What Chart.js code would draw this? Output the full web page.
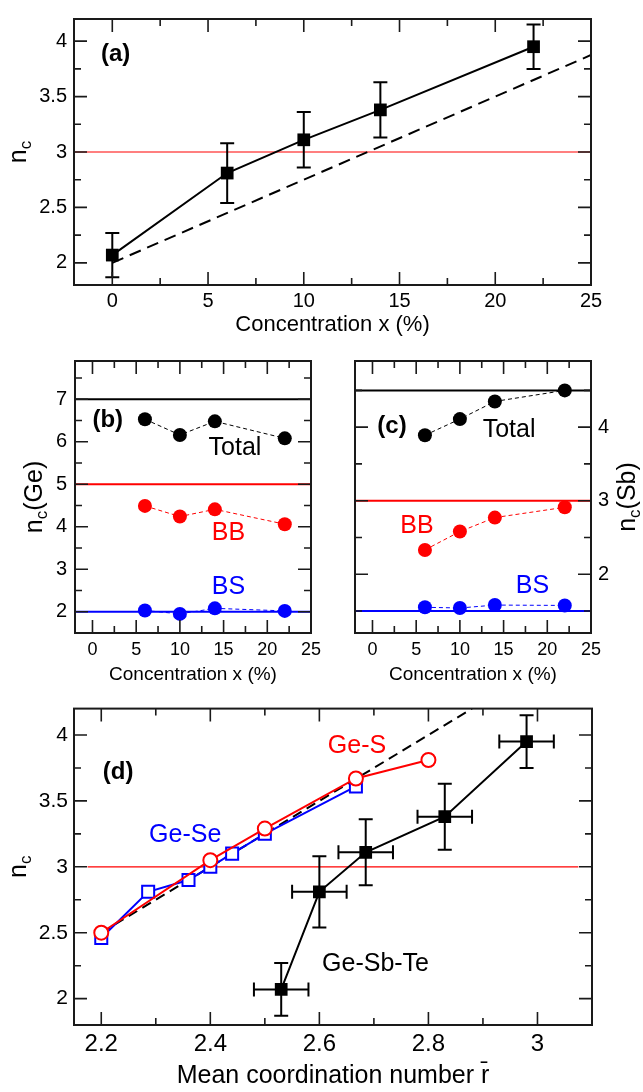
<!DOCTYPE html>
<html>
<head>
<meta charset="utf-8">
<script src="https://cdn.jsdelivr.net/npm/chart.js@4.4.1/dist/chart.umd.min.js"></script>
<style>
  html, body { margin: 0; padding: 0; background: #fff; }
  #fig { position: relative; width: 643px; height: 1092px; overflow: hidden; }
  #fig canvas { position: absolute; }
</style>
</head>
<body>
<div id="fig">
  <canvas id="panelA" width="643" height="340" style="left:0;top:0"></canvas>
  <canvas id="panelB" width="333" height="350" style="left:0;top:340px"></canvas>
  <canvas id="panelC" width="310" height="350" style="left:333px;top:340px"></canvas>
  <canvas id="panelD" width="643" height="402" style="left:0;top:690px"></canvas>
</div>
<script>
const FONT = "'Liberation Sans', Arial, Helvetica, sans-serif";

// ---------- (a) Te coordination number vs. concentration ----------
const concPct   = [0, 6, 10, 14, 22];
const ncTe      = [2.07, 2.81, 3.11, 3.38, 3.95];
const ncTeErr   = [0.20, 0.27, 0.25, 0.25, 0.20];
const concRange = [-2, 25];
const rigidNc   = 3;
const mfcConcX  = [0, 25];
const mfcConcY  = [2.0, 3.875];
const concTicks      = [0, 5, 10, 15, 20, 25];
const concTickLabels = ['0', '5', '10', '15', '20', '25'];
const ncTicksA       = [2, 2.5, 3, 3.5, 4];
const ncTickLabelsA  = ['2', '2.5', '3', '3.5', '4'];

// ---------- (b) Ge and (c) Sb coordination ----------
const partConc = [6, 10, 14, 22];
const geTotal  = [6.53, 6.16, 6.48, 6.08];
const geBB     = [4.49, 4.24, 4.41, 4.06];
const geBS     = [2.03, 1.95, 2.08, 2.02];
const geLevels = [7, 5, 2];          // Total, BB, BS reference levels
const sbTotal  = [3.89, 4.11, 4.35, 4.50];
const sbBB     = [2.33, 2.58, 2.77, 2.91];
const sbBS     = [1.55, 1.54, 1.58, 1.575];
const sbLevels = [4.5, 3, 1.5];
const geTicks      = [2, 3, 4, 5, 6, 7];
const geTickLabels = ['2', '3', '4', '5', '6', '7'];
const sbTicks      = [2, 3, 4];
const sbTickLabels = ['2', '3', '4'];

// ---------- (d) n_c vs. mean coordination number ----------
const gstR     = [2.53, 2.60, 2.685, 2.83, 2.98];
const gstRErr  = [0.05, 0.05, 0.05, 0.05, 0.05];
const geSR     = [2.2, 2.4, 2.5, 2.667, 2.8];
const geSNc    = [2.50, 3.05, 3.29, 3.67, 3.81];
const geSeR    = [2.2, 2.286, 2.36, 2.4, 2.44, 2.5, 2.667];
const geSeNc   = [2.46, 2.81, 2.90, 3.00, 3.10, 3.25, 3.61];
const mfcR     = [2.2, 2.88];
const mfcNc    = [2.5, 4.2];
const limitR   = [2.175, 3.075];
const rTicks      = [2.2, 2.4, 2.6, 2.8, 3.0];
const rTickLabels = ['2.2', '2.4', '2.6', '2.8', '3'];

// ---------- helpers ----------
const pts = (xs, ys) => xs.map((x, i) => ({ x, y: ys[i] }));

function series(xs, ys, o) {
  return Object.assign({
    data: pts(xs, ys), showLine: true, borderWidth: 2, borderColor: '#000',
    backgroundColor: '#000', pointRadius: 0, pointHoverRadius: 0,
    pointBorderWidth: 0, pointBackgroundColor: '#000', pointBorderColor: '#000'
  }, o);
}

function axis(kind, ax, size) {
  return {
    type: 'linear',
    position: ax.position || (kind === 'x' ? 'bottom' : 'left'),
    min: ax.min, max: ax.max,
    afterBuildTicks: s => { s.ticks = ax.ticks.map(v => ({ value: v })); },
    afterFit: s => { if (kind === 'x') s.height = size; else s.width = size; },
    grid: { display: false, drawTicks: false },
    border: { display: false },
    ticks: {
      autoSkip: false, maxRotation: 0, color: '#000', padding: ax.pad,
      font: { family: FONT, size: ax.size },
      callback: (v, i) => ax.labels[i]
    }
  };
}

// Rich text (for subscripts); rot = -PI/2 reads bottom to top.
function drawRich(ctx, segs, x, y, rot, align) {
  ctx.save();
  ctx.translate(x, y);
  ctx.rotate(rot || 0);
  const widths = segs.map(s => { ctx.font = `${s.bold ? 'bold ' : ''}${s.size}px ${FONT}`; return ctx.measureText(s.t).width; });
  const total = widths.reduce((a, b) => a + b, 0);
  let cx = align === 'left' ? 0 : -total / 2;
  ctx.textAlign = 'left';
  ctx.textBaseline = 'alphabetic';
  segs.forEach((s, i) => {
    ctx.font = `${s.bold ? 'bold ' : ''}${s.size}px ${FONT}`;
    ctx.fillStyle = s.color || '#000';
    ctx.fillText(s.t, cx, s.dy || 0);
    cx += widths[i];
  });
  ctx.restore();
}

const errorBarPlugin = {
  id: 'errorBars',
  afterDatasetsDraw(chart) {
    const { ctx, scales: { x, y } } = chart;
    ctx.save();
    ctx.strokeStyle = '#000';
    ctx.lineWidth = 2;
    chart.data.datasets.forEach(ds => {
      if (!ds.errY && !ds.errX) return;
      ds.data.forEach((p, i) => {
        const px = x.getPixelForValue(p.x), py = y.getPixelForValue(p.y);
        ctx.beginPath();
        if (ds.errY) {
          const t = y.getPixelForValue(p.y + ds.errY[i]);
          const b = y.getPixelForValue(p.y - ds.errY[i]);
          ctx.moveTo(px, t); ctx.lineTo(px, b);
          ctx.moveTo(px - 7, t); ctx.lineTo(px + 7, t);
          ctx.moveTo(px - 7, b); ctx.lineTo(px + 7, b);
        }
        if (ds.errX) {
          const l = x.getPixelForValue(p.x - ds.errX[i]);
          const r = x.getPixelForValue(p.x + ds.errX[i]);
          ctx.moveTo(l, py); ctx.lineTo(r, py);
          ctx.moveTo(l, py - 7); ctx.lineTo(l, py + 7);
          ctx.moveTo(r, py - 7); ctx.lineTo(r, py + 7);
        }
        ctx.stroke();
      });
    });
    ctx.restore();
  }
};

// Frame with inward major/minor ticks on all four sides, plus labels.
const framePlugin = {
  id: 'frame',
  afterDraw(chart, args, o) {
    const { ctx, chartArea: a, scales: { x, y } } = chart;
    const tickSet = (s, step) => {
      const major = s.ticks.map(t => t.value);
      const minor = [];
      const i0 = Math.ceil(s.min / step - 1e-9);
      for (let i = i0; i * step <= s.max + 1e-9; i++) {
        const v = i * step;
        if (Math.abs(v - s.min) < 1e-6 || Math.abs(v - s.max) < 1e-6) continue;
        if (!major.some(m => Math.abs(m - v) < 1e-6)) minor.push(v);
      }
      return { major, minor };
    };
    const xt = tickSet(x, o.xMinor), yt = tickSet(y, o.yMinor);
    ctx.save();
    ctx.strokeStyle = '#1a1a1a';
    ctx.lineWidth = 1.6;
    ctx.beginPath();
    const vTick = (v, len) => {
      const p = x.getPixelForValue(v);
      ctx.moveTo(p, a.bottom); ctx.lineTo(p, a.bottom - len);
      ctx.moveTo(p, a.top); ctx.lineTo(p, a.top + len);
    };
    const hTick = (v, len) => {
      const p = y.getPixelForValue(v);
      ctx.moveTo(a.left, p); ctx.lineTo(a.left + len, p);
      ctx.moveTo(a.right, p); ctx.lineTo(a.right - len, p);
    };
    xt.major.forEach(v => vTick(v, 13));
    xt.minor.forEach(v => vTick(v, 7));
    yt.major.forEach(v => hTick(v, 13));
    yt.minor.forEach(v => hTick(v, 7));
    ctx.stroke();
    ctx.lineWidth = 2;
    ctx.strokeRect(a.left, a.top, a.right - a.left, a.bottom - a.top);
    ctx.restore();

    // in-plot labels, anchored in data coordinates
    (o.notes || []).forEach(n => {
      ctx.save();
      ctx.font = `${n.bold ? 'bold ' : ''}${n.size}px ${FONT}`;
      ctx.fillStyle = n.color || '#000';
      ctx.textAlign = 'center';
      ctx.textBaseline = 'middle';
      ctx.fillText(n.t, x.getPixelForValue(n.x), y.getPixelForValue(n.y));
      ctx.restore();
    });
    // axis titles
    if (o.xTitle) drawRich(ctx, o.xTitle.segs, (a.left + a.right) / 2, o.xTitle.base, 0);
    if (o.yTitle) drawRich(ctx, o.yTitle.segs, o.yTitle.base, (a.top + a.bottom) / 2, -Math.PI / 2);
  }
};

function panel(id, box, xAx, yAx, datasets, deco) {
  const cv = document.getElementById(id);
  const W = cv.width, H = cv.height;
  const right = yAx.position === 'right';
  return new Chart(cv, {
    type: 'scatter',
    data: { datasets },
    options: {
      responsive: false, animation: false, devicePixelRatio: 1,
      events: [],
      layout: {
        autoPadding: false,
        padding: { left: right ? box.l : 0, top: box.t, right: right ? 0 : W - box.r, bottom: 0 }
      },
      plugins: { legend: { display: false }, tooltip: { enabled: false }, frame: deco },
      scales: {
        x: axis('x', xAx, H - box.b),
        y: axis('y', yAx, right ? W - box.r : box.l)
      }
    },
    plugins: [errorBarPlugin, framePlugin]
  });
}

const ncSegs = [{ t: 'n', size: 25 }, { t: 'c', size: 17, dy: 5 }];
const RED = '#ff0000', BLUE = '#0000ff';

// ---------- (a) ----------
panel('panelA', { l: 74, t: 5, r: 591, b: 285 },
  { min: -2, max: 25, ticks: concTicks, labels: concTickLabels, size: 20, pad: 4 },
  { min: 1.8, max: 4.2, ticks: ncTicksA, labels: ncTickLabelsA, size: 20, pad: 7 },
  [
    series(concRange, [rigidNc, rigidNc], { borderColor: RED, borderWidth: 1.2, order: 5 }),
    series(mfcConcX, mfcConcY, { borderDash: [12, 7], order: 4 }),
    series(concPct, ncTe, { pointStyle: 'rect', pointRadius: 9, errY: ncTeErr, order: 1 })
  ],
  {
    xMinor: 2.5, yMinor: 0.25,
    notes: [{ t: '(a)', x: 0.17, y: 3.877, size: 24, bold: true }],
    xTitle: { segs: [{ t: 'Concentration x (%)', size: 22 }], base: 331 },
    yTitle: { segs: ncSegs, base: 26 }
  });

// ---------- (b) ----------
panel('panelB', { l: 75, t: 21, r: 311, b: 293 },
  { min: -2, max: 25, ticks: concTicks, labels: concTickLabels, size: 18, pad: 6 },
  { min: 1.5, max: 7.9, ticks: geTicks, labels: geTickLabels, size: 20, pad: 8 },
  [
    series(concRange, [geLevels[0], geLevels[0]], { order: 6 }),
    series(concRange, [geLevels[1], geLevels[1]], { borderColor: RED, order: 6 }),
    series(concRange, [geLevels[2], geLevels[2]], { borderColor: BLUE, order: 6 }),
    series(partConc, geTotal, { borderWidth: 1, borderDash: [4, 3], pointRadius: 7, order: 1 }),
    series(partConc, geBB, { borderWidth: 1, borderDash: [4, 3], borderColor: RED, pointRadius: 7,
      pointBackgroundColor: RED, pointBorderColor: RED, order: 1 }),
    series(partConc, geBS, { borderWidth: 1, borderDash: [4, 3], borderColor: BLUE, pointRadius: 7,
      pointBackgroundColor: BLUE, pointBorderColor: BLUE, order: 1 })
  ],
  {
    xMinor: 2.5, yMinor: 0.5,
    notes: [
      { t: '(b)', x: 1.75, y: 6.51, size: 24, bold: true },
      { t: 'Total', x: 16.3, y: 5.85, size: 25 },
      { t: 'BB', x: 15.55, y: 3.84, size: 25, color: RED },
      { t: 'BS', x: 15.55, y: 2.57, size: 25, color: BLUE }
    ],
    xTitle: { segs: [{ t: 'Concentration x (%)', size: 19 }], base: 340 },
    yTitle: { segs: ncSegs.concat([{ t: '(Ge)', size: 25 }]), base: 42 }
  });

// ---------- (c) ----------
panel('panelC', { l: 22, t: 21, r: 258, b: 293 },
  { min: -2, max: 25, ticks: concTicks, labels: concTickLabels, size: 18, pad: 6 },
  { min: 1.2, max: 4.9, ticks: sbTicks, labels: sbTickLabels, size: 20, pad: 7, position: 'right' },
  [
    series(concRange, [sbLevels[0], sbLevels[0]], { order: 6 }),
    series(concRange, [sbLevels[1], sbLevels[1]], { borderColor: RED, order: 6 }),
    series(concRange, [sbLevels[2], sbLevels[2]], { borderColor: BLUE, order: 6 }),
    series(partConc, sbTotal, { borderWidth: 1, borderDash: [4, 3], pointRadius: 7, order: 1 }),
    series(partConc, sbBB, { borderWidth: 1, borderDash: [4, 3], borderColor: RED, pointRadius: 7,
      pointBackgroundColor: RED, pointBorderColor: RED, order: 1 }),
    series(partConc, sbBS, { borderWidth: 1, borderDash: [4, 3], borderColor: BLUE, pointRadius: 7,
      pointBackgroundColor: BLUE, pointBorderColor: BLUE, order: 1 })
  ],
  {
    xMinor: 2.5, yMinor: 0.5,
    notes: [
      { t: '(c)', x: 2.23, y: 4.01, size: 24, bold: true },
      { t: 'Total', x: 15.63, y: 3.96, size: 25 },
      { t: 'BB', x: 5.09, y: 2.65, size: 25, color: RED },
      { t: 'BS', x: 18.3, y: 1.84, size: 25, color: BLUE }
    ],
    xTitle: { segs: [{ t: 'Concentration x (%)', size: 19 }], base: 340 },
    yTitle: { segs: ncSegs.concat([{ t: '(Sb)', size: 25 }]), base: 302 }
  });

// ---------- (d) ----------
panel('panelD', { l: 74, t: 12, r: 592, b: 335 },
  { min: 2.15, max: 3.1, ticks: rTicks, labels: rTickLabels, size: 24, pad: 5 },
  { min: 1.8, max: 4.2, ticks: ncTicksA, labels: ncTickLabelsA, size: 21, pad: 6 },
  [
    series(limitR, [rigidNc, rigidNc], { borderColor: RED, borderWidth: 1.2, order: 6 }),
    series(mfcR, mfcNc, { borderDash: [10, 6], order: 5 }),
    series(geSeR, geSeNc, { borderColor: BLUE, pointStyle: 'rect', pointRadius: 8.5,
      pointBackgroundColor: '#fff', pointBorderColor: BLUE, pointBorderWidth: 2, order: 3 }),
    series(geSR, geSNc, { borderColor: RED, pointStyle: 'circle', pointRadius: 7,
      pointBackgroundColor: '#fff', pointBorderColor: RED, pointBorderWidth: 2, order: 2 }),
    series(gstR, ncTe, { pointStyle: 'rect', pointRadius: 9, errX: gstRErr, errY: ncTeErr, order: 1 })
  ],
  {
    xMinor: 0.1, yMinor: 0.25,
    notes: [
      { t: '(d)', x: 2.231, y: 3.72, size: 24, bold: true },
      { t: 'Ge-S', x: 2.669, y: 3.918, size: 25, color: RED },
      { t: 'Ge-Se', x: 2.354, y: 3.242, size: 25, color: BLUE },
      { t: 'Ge-Sb-Te', x: 2.703, y: 2.262, size: 25 }
    ],
    xTitle: { segs: [{ t: 'Mean coordination number r\u0304', size: 25 }], base: 393 },
    yTitle: { segs: ncSegs, base: 26 }
  });
</script>
</body>
</html>
